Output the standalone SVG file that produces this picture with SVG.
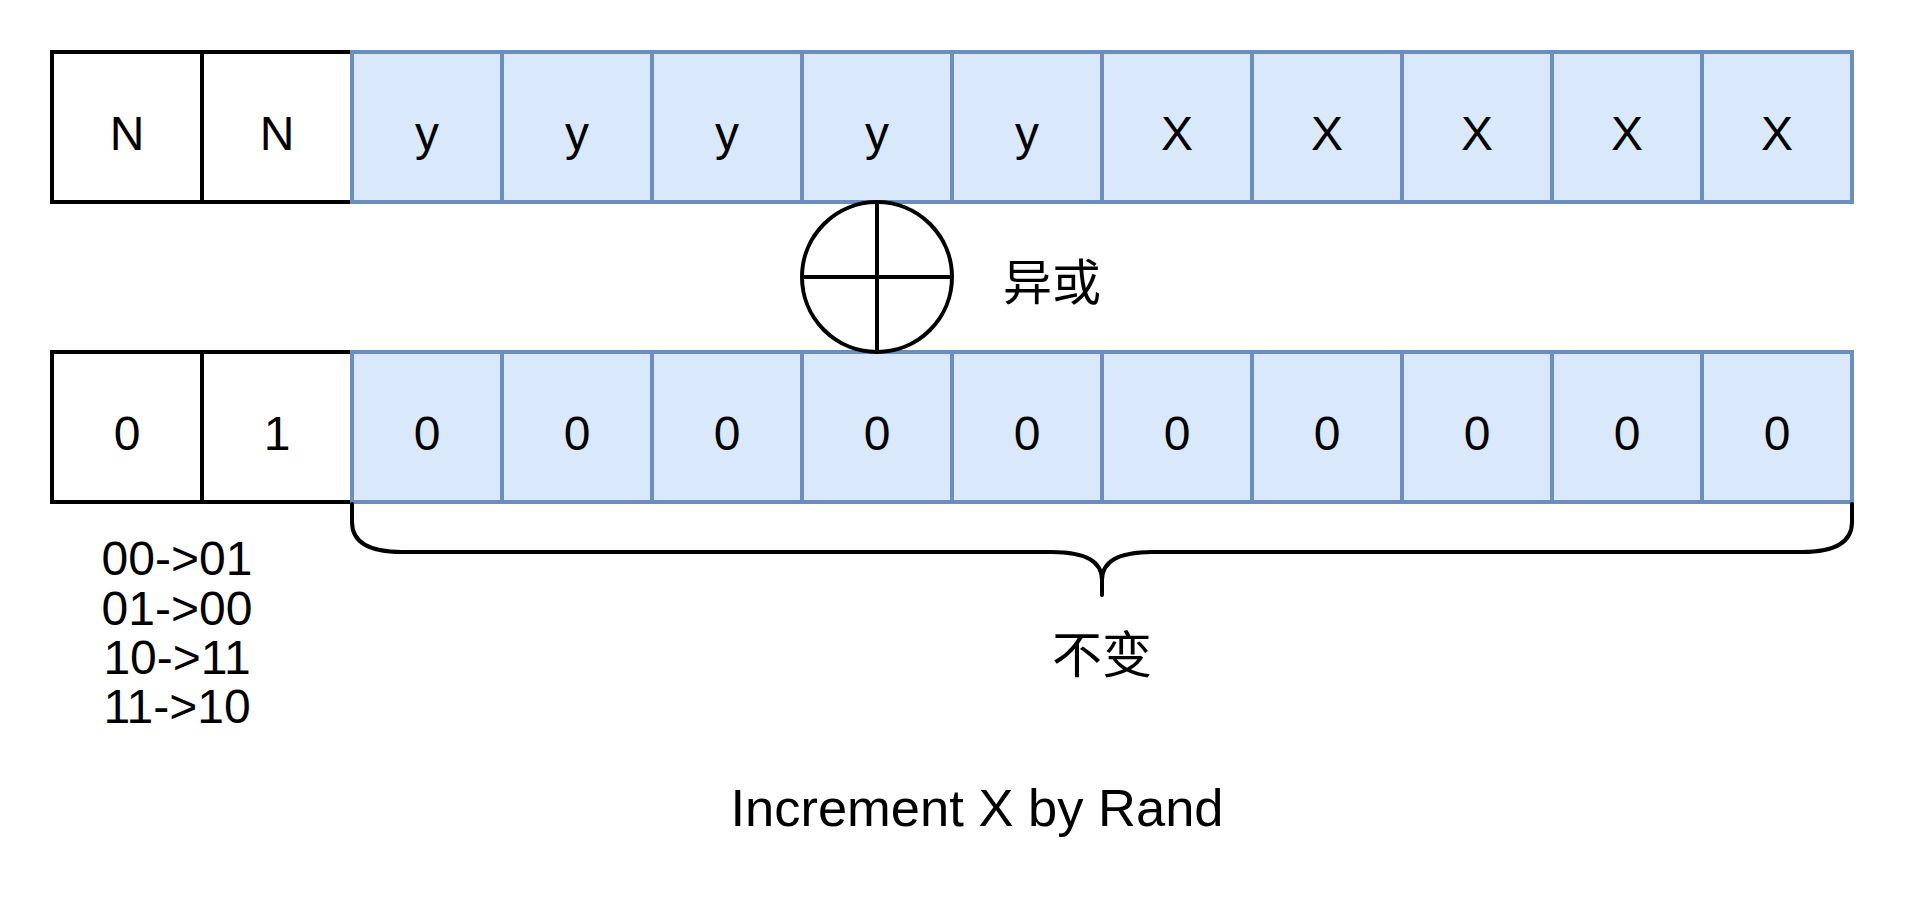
<svg xmlns="http://www.w3.org/2000/svg" width="1905" height="905" viewBox="0 0 1905 905">
<style>
.w{fill:#ffffff;stroke:#000000;stroke-width:4}
.b{fill:#dae8fc;stroke:#6c8ebf;stroke-width:4}
.t{font-family:"Liberation Sans",Arial,sans-serif;font-size:48px;fill:#000000;text-anchor:middle}
.c{font-family:"Noto Sans CJK SC","Noto Sans",sans-serif;font-size:48px;fill:#000000}
.ln{fill:none;stroke:#000000;stroke-width:4;stroke-linecap:round;stroke-linejoin:round}
</style>
<rect width="1905" height="905" fill="#ffffff"/>
<g id="top-row">
<g id="t0"><rect class="w" x="52" y="52" width="150" height="150"/><text class="t" x="127" y="150">N</text></g>
<g id="t1"><rect class="w" x="202" y="52" width="150" height="150"/><text class="t" x="277" y="150">N</text></g>
<g id="t2"><rect class="b" x="352" y="52" width="150" height="150"/><text class="t" x="427" y="150">y</text></g>
<g id="t3"><rect class="b" x="502" y="52" width="150" height="150"/><text class="t" x="577" y="150">y</text></g>
<g id="t4"><rect class="b" x="652" y="52" width="150" height="150"/><text class="t" x="727" y="150">y</text></g>
<g id="t5"><rect class="b" x="802" y="52" width="150" height="150"/><text class="t" x="877" y="150">y</text></g>
<g id="t6"><rect class="b" x="952" y="52" width="150" height="150"/><text class="t" x="1027" y="150">y</text></g>
<g id="t7"><rect class="b" x="1102" y="52" width="150" height="150"/><text class="t" x="1177" y="150">X</text></g>
<g id="t8"><rect class="b" x="1252" y="52" width="150" height="150"/><text class="t" x="1327" y="150">X</text></g>
<g id="t9"><rect class="b" x="1402" y="52" width="150" height="150"/><text class="t" x="1477" y="150">X</text></g>
<g id="t10"><rect class="b" x="1552" y="52" width="150" height="150"/><text class="t" x="1627" y="150">X</text></g>
<g id="t11"><rect class="b" x="1702" y="52" width="150" height="150"/><text class="t" x="1777" y="150">X</text></g>
</g>
<g id="bottom-row">
<g id="b0"><rect class="w" x="52" y="352" width="150" height="150"/><text class="t" x="127" y="450">0</text></g>
<g id="b1"><rect class="w" x="202" y="352" width="150" height="150"/><text class="t" x="277" y="450">1</text></g>
<g id="b2"><rect class="b" x="352" y="352" width="150" height="150"/><text class="t" x="427" y="450">0</text></g>
<g id="b3"><rect class="b" x="502" y="352" width="150" height="150"/><text class="t" x="577" y="450">0</text></g>
<g id="b4"><rect class="b" x="652" y="352" width="150" height="150"/><text class="t" x="727" y="450">0</text></g>
<g id="b5"><rect class="b" x="802" y="352" width="150" height="150"/><text class="t" x="877" y="450">0</text></g>
<g id="b6"><rect class="b" x="952" y="352" width="150" height="150"/><text class="t" x="1027" y="450">0</text></g>
<g id="b7"><rect class="b" x="1102" y="352" width="150" height="150"/><text class="t" x="1177" y="450">0</text></g>
<g id="b8"><rect class="b" x="1252" y="352" width="150" height="150"/><text class="t" x="1327" y="450">0</text></g>
<g id="b9"><rect class="b" x="1402" y="352" width="150" height="150"/><text class="t" x="1477" y="450">0</text></g>
<g id="b10"><rect class="b" x="1552" y="352" width="150" height="150"/><text class="t" x="1627" y="450">0</text></g>
<g id="b11"><rect class="b" x="1702" y="352" width="150" height="150"/><text class="t" x="1777" y="450">0</text></g>
</g>
<g id="xor">
<circle cx="877" cy="277" r="75" fill="#ffffff" stroke="#000000" stroke-width="4"/>
<line x1="877" y1="202" x2="877" y2="352" stroke="#000000" stroke-width="4"/>
<line x1="802" y1="277" x2="952" y2="277" stroke="#000000" stroke-width="4"/>
</g>
<g id="xor-label"><text class="c" x="1003" y="300" style="font-size:49px">异或</text></g>
<g id="connectors">
<path class="ln" d="M352,504 L352,522 Q352,552 402,552 L1052,552 Q1102,552 1102,580 L1102,595 M1102,580 Q1102,552 1152,552 L1802,552 Q1852,552 1852,522 L1852,504"/>
</g>
<g id="brace-label"><text class="c" x="1102" y="673" text-anchor="middle" style="font-size:50px">不变</text></g>
<g id="transitions">
<text class="t" x="177" y="575">00-&gt;01</text>
<text class="t" x="177" y="625">01-&gt;00</text>
<text class="t" x="177" y="674">10-&gt;11</text>
<text class="t" x="177" y="723">11-&gt;10</text>
</g>
<g id="title"><text class="t" x="977" y="826" style="font-size:52.5px">Increment X by Rand</text></g>
</svg>
